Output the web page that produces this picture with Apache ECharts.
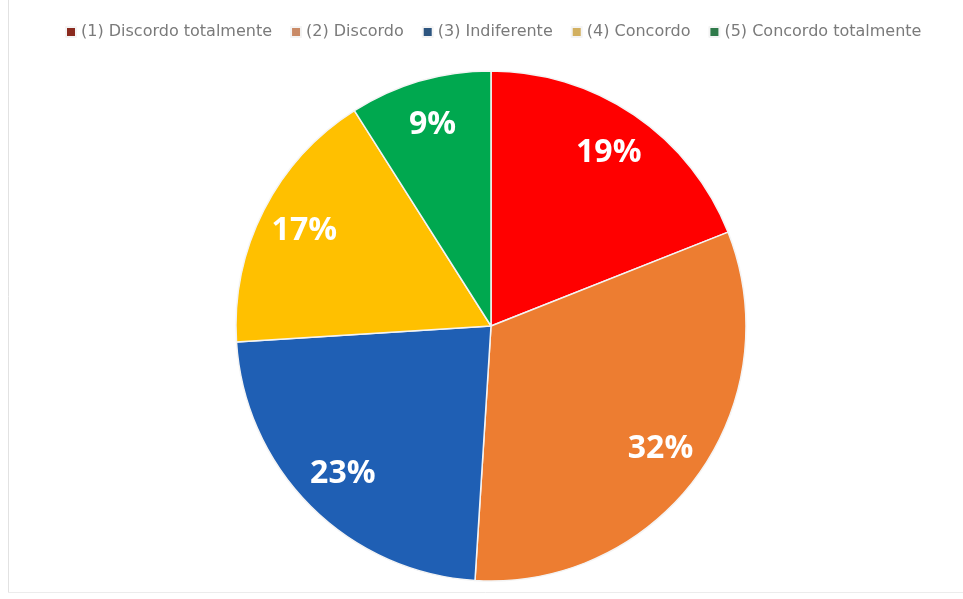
<!DOCTYPE html>
<html>
<head>
<meta charset="utf-8">
<script src="https://cdn.jsdelivr.net/npm/echarts@6/dist/echarts.min.js"></script>
<style>
  html, body { margin: 0; padding: 0; background: #fff; }
  #chart { width: 963px; height: 599px; }
</style>
</head>
<body>
<div id="chart"></div>
<script>
// Survey answers (Likert scale) and their shares in percent
const categories = [
  '(1) Discordo totalmente',
  '(2) Discordo',
  '(3) Indiferente',
  '(4) Concordo',
  '(5) Concordo totalmente'
];
const shares = [19, 32, 23, 17, 9];
const sliceColors = ['#ff0000', '#ed7d31', '#1f5fb4', '#ffc000', '#00a84f'];
const legendColors = ['#8a2a1e', '#c98a66', '#2d557f', '#d2b060', '#2f7a4a'];

const chart = echarts.init(document.getElementById('chart'));

const pieData = categories.map((name, i) => ({
  name,
  value: shares[i],
  itemStyle: { color: sliceColors[i] }
}));

const center = [491, 326];
const R = 255;

chart.setOption({
  backgroundColor: '#ffffff',
  animation: false,
  legend: {
    top: 19,
    left: 60,
    itemWidth: 10,
    itemHeight: 10,
    itemGap: 18,
    icon: 'rect',
    textStyle: { fontFamily: 'DejaVu Sans', fontSize: 16, color: '#7a7a7a' },
    data: categories.map((name, i) => ({ name, itemStyle: { color: legendColors[i] } }))
  },
  graphic: [
    { type: 'line', shape: { x1: 8.5, y1: 0, x2: 8.5, y2: 593 }, style: { stroke: '#e2e2e2', lineWidth: 1 } },
    { type: 'line', shape: { x1: 8, y1: 592.5, x2: 963, y2: 592.5 }, style: { stroke: '#ececec', lineWidth: 1 } }
  ],
  series: [
    {
      type: 'pie',
      center,
      radius: R,
      startAngle: 90,
      clockwise: true,
      silent: true,
      label: { show: false },
      labelLine: { show: false },
      itemStyle: { borderColor: '#f4f4f4', borderWidth: 1.5 },
      data: pieData
    },
    {
      // transparent ring used only to place the percentage labels near the rim
      type: 'pie',
      center,
      radius: [R * 0.62, R],
      startAngle: 90,
      clockwise: true,
      silent: true,
      itemStyle: { color: 'rgba(0,0,0,0)' },
      label: {
        show: true,
        position: 'inside',
        formatter: p => p.value + '%',
        color: '#ffffff',
        fontFamily: 'Open Sans',
        fontWeight: 'bold',
        fontSize: 32
      },
      labelLine: { show: false },
      data: categories.map((name, i) => ({ name, value: shares[i] }))
    }
  ]
});
</script>
</body>
</html>
